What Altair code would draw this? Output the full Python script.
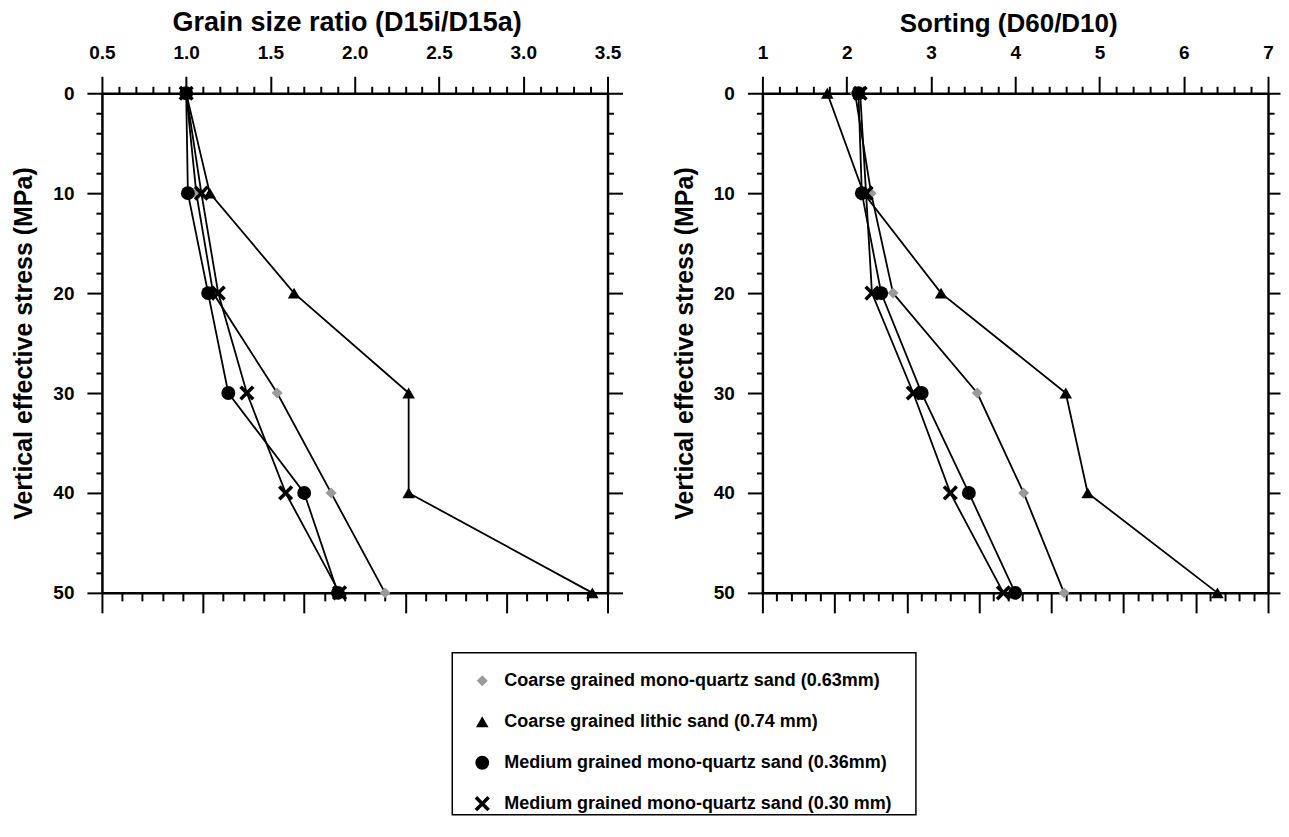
import altair as alt
import pandas as pd

FONT = "Liberation Sans"

# ---------------- data ----------------
stress = [0, 10, 20, 30, 40, 50]
series_names = [
    "Coarse grained mono-quartz sand (0.63mm)",
    "Coarse grained lithic sand (0.74 mm)",
    "Medium grained mono-quartz sand (0.36mm)",
    "Medium grained mono-quartz sand (0.30 mm)",
]

# Grain size ratio (D15i/D15a)
ratio_coarse_mono = [1.00, 1.06, 1.16, 1.54, 1.86, 2.18]
ratio_lithic = [1.00, 1.14, 1.64, 2.32, 2.32, 3.41]
ratio_med036 = [1.00, 1.01, 1.13, 1.25, 1.70, 1.90]
ratio_med030 = [1.00, 1.09, 1.19, 1.36, 1.59, 1.91]

# Sorting (D60/D10)
sort_coarse_mono = [2.10, 2.29, 2.55, 3.55, 4.10, 4.58]
sort_lithic = [1.77, 2.20, 3.12, 4.60, 4.86, 6.40]
sort_med036 = [2.14, 2.18, 2.41, 2.89, 3.45, 4.00]
sort_med030 = [2.16, 2.23, 2.30, 2.79, 3.23, 3.86]

# tick positions
y_ticks = list(range(0, 51, 2))
ratio_ticks = [round(0.5 + 0.1 * i, 1) for i in range(31)]
ratio_bottom_ticks = [round(0.2 * i, 1) for i in range(26)]
sort_ticks = [round(1 + 0.2 * i, 1) for i in range(31)]
sort_bottom_ticks = [round(0.2 * i, 1) for i in range(36)]


def long_df(cols):
    rows = []
    for name, vals in zip(series_names, cols):
        for s, v in zip(stress, vals):
            rows.append({"series": name, "stress": s, "value": v})
    return pd.DataFrame(rows)


ratio_df = long_df([ratio_coarse_mono, ratio_lithic, ratio_med036, ratio_med030])
sort_df = long_df([sort_coarse_mono, sort_lithic, sort_med036, sort_med030])

X_PATH = ("M-1,-0.67L-0.67,-1L0,-0.33L0.67,-1L1,-0.67L0.33,0L1,0.67L0.67,1"
          "L0,0.33L-0.67,1L-1,0.67L-0.33,0Z")

shape_scale = alt.Scale(domain=series_names, range=["diamond", "triangle-up", "circle", X_PATH])
fill_scale = alt.Scale(domain=series_names, range=["#9a9a9a", "black", "black", "black"])
size_scale = alt.Scale(domain=series_names, range=[120, 230, 200, 160])

HALF_TEST = "abs(datum.value*2 - round(datum.value*2)) < 0.000001"
INT_TEST = "abs(datum.value - round(datum.value)) < 0.000001"
TEN_TEST = "datum.value % 10 === 0"


def make_axis(orient, values, test, major, minor, labels=False, fmt=None,
              title=None, title_size=26, title_pad=0, label_pad=0, title_x=None):
    kw = dict(
        orient=orient,
        values=values,
        tickSize={"condition": {"test": test, "value": major}, "value": minor},
        tickWidth=2,
        tickColor="black",
        domainWidth=2.5,
        domainColor="black",
        grid=False,
        labels=labels,
    )
    if labels:
        kw.update(
            labelExpr=f"{test} ? format(datum.value, '{fmt}') : ''",
            labelFont=FONT,
            labelFontSize=19,
            labelFontWeight="bold",
            labelColor="black",
            labelPadding=label_pad,
            labelOverlap=False,
            labelFlush=False,
        )
    if title is not None:
        kw.update(
            title=title,
            titleFont=FONT,
            titleFontSize=title_size,
            titleFontWeight="bold",
            titleColor="black",
            titlePadding=title_pad,
        )
        if title_x is not None:
            kw.update(titleX=title_x)
    else:
        kw.update(title=None)
    return alt.Axis(**kw)


def panel(df, xdom, xticks, xtest, fmt, title, title_size, title_x, bdom, bticks,
          right_major):
    x = alt.X("value:Q",
              scale=alt.Scale(domain=xdom, nice=False, zero=False),
              axis=make_axis("top", xticks, xtest, 17, 7, labels=True, fmt=fmt,
                             title=title, title_size=title_size, title_pad=7,
                             label_pad=14, title_x=title_x))
    y = alt.Y("stress:Q",
              scale=alt.Scale(domain=[0, 50], reverse=True, nice=False, zero=False),
              axis=make_axis("left", y_ticks, TEN_TEST, 15, 6, labels=True, fmt="d",
                             title="Vertical effective stress (MPa)", title_size=25,
                             title_pad=16, label_pad=13))
    base = alt.Chart(df)
    lines = base.mark_line(color="black", strokeWidth=1.8).encode(
        x=x, y=y, detail="series:N", order="stress:Q")
    points = base.mark_point(filled=True, opacity=1, strokeWidth=0).encode(
        x=x, y=y,
        shape=alt.Shape("series:N", scale=shape_scale, legend=None),
        fill=alt.Fill("series:N", scale=fill_scale, legend=None),
        size=alt.Size("series:N", scale=size_scale, legend=None),
    )
    main = alt.layer(lines, points)

    frame_df = pd.DataFrame({"bx": [bdom[0]], "by": [0]})
    frame = alt.Chart(frame_df).mark_point(opacity=0).encode(
        x=alt.X("bx:Q", scale=alt.Scale(domain=bdom, nice=False, zero=False),
                axis=make_axis("bottom", bticks, INT_TEST, 20, 8)),
        y=alt.Y("by:Q", scale=alt.Scale(domain=[0, 50], reverse=True, nice=False, zero=False),
                axis=make_axis("right", y_ticks, TEN_TEST, right_major, 6)),
    )
    return alt.layer(main, frame).resolve_scale(
        x="independent", y="independent").properties(width=506, height=500)


left = panel(ratio_df, [0.5, 3.5], ratio_ticks, HALF_TEST, ".1f",
             "Grain size ratio (D15i/D15a)", 27, 245, [0, 5], ratio_bottom_ticks, 15)
right = panel(sort_df, [1, 7], sort_ticks, INT_TEST, "d",
              "Sorting (D60/D10)", 26, 246, [0, 7], sort_bottom_ticks, 12)

# ---------------- legend box ----------------
LEG_H = 162
ROW_STEP = 41
FIRST_ROW = 28
leg_df = pd.DataFrame({"series": series_names, "idx": list(range(len(series_names)))})
leg_base = alt.Chart(leg_df).encode(
    y=alt.Y("idx:Q",
            scale=alt.Scale(domain=[-FIRST_ROW / ROW_STEP, (LEG_H - FIRST_ROW) / ROW_STEP],
                            reverse=True, nice=False, zero=False),
            axis=alt.Axis(orient="right", labels=False, ticks=False, title=None,
                          domain=True, domainColor="white", domainWidth=1,
                          offset=14, grid=False)))
leg_points = leg_base.mark_point(filled=True, opacity=1, strokeWidth=0).encode(
    x=alt.value(30),
    shape=alt.Shape("series:N", scale=shape_scale, legend=None),
    fill=alt.Fill("series:N", scale=fill_scale, legend=None),
    size=alt.Size("series:N", scale=size_scale, legend=None),
)
leg_text = leg_base.mark_text(align="left", baseline="middle", font=FONT,
                              fontSize=18, fontWeight="bold", color="black").encode(
    x=alt.value(52), text="series:N")
legend = alt.layer(leg_points, leg_text).properties(
    width=464, height=LEG_H,
    view=alt.ViewBackground(stroke="black", strokeWidth=1.5, fill="white"))

top = alt.hconcat(left, right, spacing=48)
chart = alt.vconcat(top, legend, spacing=38, center=True).properties(
    padding={"left": 3, "top": 0, "right": 0, "bottom": 0}, background="white"
).configure_view(stroke=None)

chart.save("out.html", embed_options={"renderer": "svg", "actions": False})
